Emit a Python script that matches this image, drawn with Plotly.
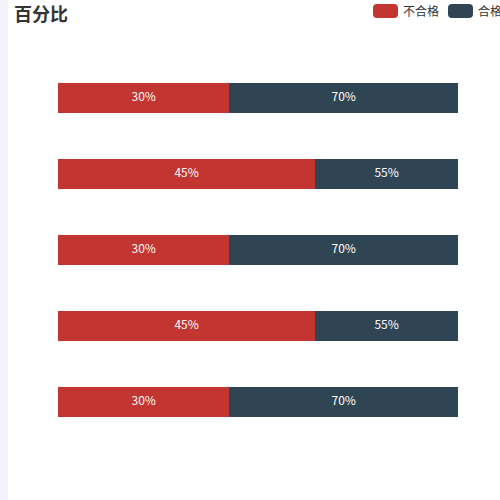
import plotly.graph_objects as go

categories = ["类目1", "类目2", "类目3", "类目4", "类目5"]
fail_values = [30, 45, 30, 45, 30]
pass_values = [70, 55, 70, 55, 70]
series_names = ["不合格", "合格"]
colors = ["#c23531", "#2f4554"]
x_max = 70

fig = go.Figure()
for name, vals, col in zip(series_names, [fail_values, pass_values], colors):
    fig.add_trace(go.Bar(
        y=categories, x=vals, name=name, orientation="h",
        marker=dict(color=col, line=dict(width=0)),
        textposition="none", hoverinfo="x+name",
        showlegend=False,
    ))

# labels centred in the visible part of each segment
label_x, label_y, label_t = [], [], []
for cat, f, p in zip(categories, fail_values, pass_values):
    label_x.append(f / 2); label_y.append(cat); label_t.append(f"{f}%")
    end = min(f + p, x_max)
    label_x.append((f + end) / 2); label_y.append(cat); label_t.append(f"{p}%")
fig.add_trace(go.Scatter(
    x=label_x, y=label_y, text=label_t, mode="text",
    textposition="middle center",
    textfont=dict(color="white", size=12, family="Noto Sans CJK SC"),
    showlegend=False, hoverinfo="skip", cliponaxis=False,
))

PL, PT, PW, PH = 58, 60, 400, 380


def px(x):
    return (x - PL) / PW


def py(y):
    return (PT + PH - y) / PH


fig.update_layout(
    width=500, height=500, barmode="stack", bargap=0.605,
    margin=dict(l=PL, r=500 - PL - PW, t=PT, b=500 - PT - PH, autoexpand=False),
    paper_bgcolor="white", plot_bgcolor="white",
    xaxis=dict(range=[0, x_max], visible=False),
    yaxis=dict(autorange="reversed", visible=False),
    font=dict(family="Noto Sans CJK SC"),
)

# left grey strip
fig.add_shape(type="rect", xref="paper", yref="paper",
              x0=px(0), x1=px(8), y0=py(500), y1=py(0),
              fillcolor="#f3f3f8", line=dict(width=0), layer="below")

# title
fig.add_annotation(text="<b>百分比</b>", xref="paper", yref="paper",
                   x=px(12), y=py(13), xanchor="left", yanchor="middle",
                   showarrow=False, font=dict(size=18, color="#333", family="Noto Sans CJK SC"))


def rounded_rect(x0, y0, x1, y1, r):
    # pixel coords -> paper path with rounded corners
    rx = r / PW
    ry = r / PH
    a, b, c, d = px(x0), py(y1), px(x1), py(y0)  # a<c, b<d
    return (f"M {a+rx},{b} L {c-rx},{b} Q {c},{b} {c},{b+ry} "
            f"L {c},{d-ry} Q {c},{d} {c-rx},{d} L {a+rx},{d} "
            f"Q {a},{d} {a},{d-ry} L {a},{b+ry} Q {a},{b} {a+rx},{b} Z")


leg_x = [373, 448]
for lx, name, col in zip(leg_x, series_names, colors):
    fig.add_shape(type="path", xref="paper", yref="paper",
                  path=rounded_rect(lx, 4, lx + 25, 18, 4),
                  fillcolor=col, line=dict(width=0))
    fig.add_annotation(text=name, xref="paper", yref="paper",
                       x=px(lx + 28), y=py(11),
                       xanchor="left", yanchor="middle", showarrow=False,
                       font=dict(size=12, color="#333", family="Noto Sans CJK SC"))

fig.write_html("out.html", config={"displayModeBar": False},
               post_script="document.body.style.margin='0';")
